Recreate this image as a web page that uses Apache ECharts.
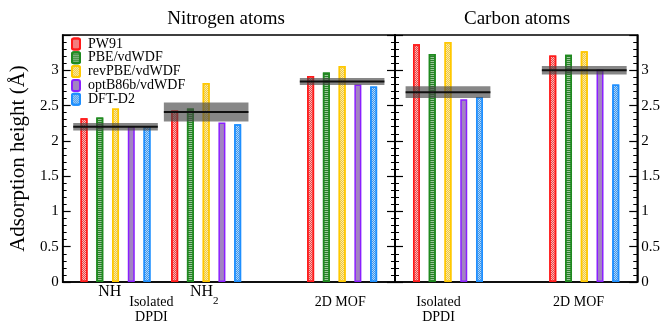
<!DOCTYPE html>
<html><head><meta charset="utf-8">
<script src="https://cdn.jsdelivr.net/npm/echarts@6/dist/echarts.min.js"></script>
<style>html,body{margin:0;padding:0;background:#fff}#c{width:663px;height:325px}</style>
</head><body><div id="c"></div>
<script>
// ---- data ----
const methods = ['PW91', 'PBE/vdWDF', 'revPBE/vdWDF', 'optB86b/vdWDF', 'DFT-D2'];
// Nitrogen panel categories (blank entries are spacers)
const nCats = ['', '', '', 'NH', '', '', '', '', '', 'NH2', '', '', '', '', '', '', '', '', '2D MOF', '', '', ''];
const cCats = ['', '', '', 'Isolated DPDI', '', '', '', '', '', '', '', '', '2D MOF', '', '', ''];
const nGroups = ['NH', 'NH2', '2D MOF'];
const cGroups = ['Isolated DPDI', '2D MOF'];
// heights (Å) per method, groups in order above
const nPW91 = [2.32, 2.43, 2.92];
const nPBE = [2.33, 2.46, 2.97];
const nRevPBE = [2.46, 2.82, 3.06];
const nOptB86b = [2.21, 2.26, 2.80];
const nD2 = [2.21, 2.235, 2.77];
const cPW91 = [3.37, 3.21];
const cPBE = [3.23, 3.22];
const cRevPBE = [3.40, 3.27];
const cOptB86b = [2.59, 3.01];
const cD2 = [2.62, 2.80];
// experimental reference (centre, half-width of uncertainty band)
const nRefCenter = [2.20, 2.41, 2.84];
const nRefHalf = [0.04, 0.12, 0.035];
const cRefCenter = [2.69, 3.00];
const cRefHalf = [0.07, 0.045];

// ---- styles ----
const FONT = 'Liberation Serif';
const fills = ['#f7b8b8', '#9cc79c', '#faeaa8', '#a283c2', '#b4d8f6'];
const decalColors = ['#ee4444', '#2a7f2a', '#f0c840', null, '#3b94ee'];
const borders = ['#ff1a1a', '#1f8a1f', '#ffc800', '#8a1fff', '#1e8fff'];
const nVals = [nPW91, nPBE, nRevPBE, nOptB86b, nD2];
const cVals = [cPW91, cPBE, cRevPBE, cOptB86b, cD2];

// label axes (fine slots) for group labels
const leftLabelSlots = 88, rightLabelSlots = 64;
const upperLeft = new Array(leftLabelSlots).fill('');
upperLeft[12] = '{n|NH}'; upperLeft[37] = '{n|NH}{s|2}';
const lowerLeft = new Array(leftLabelSlots).fill('');
lowerLeft[23] = 'Isolated\nDPDI'; lowerLeft[73] = '2D MOF';
const lowerRight = new Array(rightLabelSlots).fill('');
lowerRight[11] = 'Isolated\nDPDI'; lowerRight[48] = '2D MOF';

function seriesData(cats, groups, vals) {
  return cats.map(c => { const i = groups.indexOf(c); return i >= 0 && c !== '' ? vals[i] : '-'; });
}
function refData(cats, groups, center, half) {
  return groups.map((g, i) => [cats.indexOf(g), center[i], half[i]]);
}

const yBase = {
  type: 'value', min: 0, max: 3.5, interval: 0.5,
  splitLine: { show: false },
  axisLine: { show: true, lineStyle: { color: '#000', width: 1.5 } },
  axisTick: { show: true, inside: true, length: 8, lineStyle: { color: '#000', width: 1.2 } },
  minorTick: { show: true, splitNumber: 5, length: 4, lineStyle: { color: '#000', width: 1 } },
  axisLabel: { show: false }
};
const labelFmt = v => (v >= 3.5 ? '' : String(v));
const yLabel = { show: true, color: '#000', fontFamily: FONT, fontSize: 15, margin: 4, formatter: labelFmt, showMaxLabel: false };

const hiddenX = {
  type: 'category', position: 'bottom', axisLine: { show: false }, axisTick: { show: false },
  splitLine: { show: false }
};

function makeDecal(k) {
  if (!decalColors[k]) return undefined;
  if (k === 1) return { symbol: 'rect', symbolSize: 1, color: decalColors[k], dashArrayX: [1, 0], dashArrayY: [1, 1], rotation: 0 };
  return { symbol: 'rect', symbolSize: 1, color: decalColors[k], dashArrayX: [[1, 1], [0, 1, 1, 0]], dashArrayY: [1, 0], rotation: 0 };
}

const series = [];
methods.forEach((m, k) => {
  const st = { color: fills[k], borderColor: borders[k], borderWidth: 1.5, decal: makeDecal(k) };
  series.push({ name: m, type: 'bar', xAxisIndex: 0, yAxisIndex: 0, barWidth: 7, barGap: '125%',
    data: seriesData(nCats, nGroups, nVals[k]), itemStyle: st });
  series.push({ name: m, type: 'bar', xAxisIndex: 3, yAxisIndex: 2, barWidth: 7, barGap: '125%',
    data: seriesData(cCats, cGroups, cVals[k]), itemStyle: st });
});
function bandRender(params, api) {
  const x = api.value(0), c = api.value(1), h = api.value(2);
  const pc = api.coord([x, c]), pl = api.coord([x, c - h]), ph = api.coord([x, c + h]);
  const half = api.size([1, 0])[0] * 2.8;
  return { type: 'group', children: [
    { type: 'rect', shape: { x: pc[0] - half, y: ph[1] - 1, width: 2 * half, height: pl[1] - ph[1] + 2 },
      style: { fill: 'rgba(70,70,70,0.65)' } },
    { type: 'line', shape: { x1: pc[0] - half, y1: pc[1], x2: pc[0] + half, y2: pc[1] },
      style: { stroke: '#111', lineWidth: 2 } }
  ] };
}
series.push({ type: 'custom', xAxisIndex: 0, yAxisIndex: 0, z: 10, renderItem: bandRender,
  data: refData(nCats, nGroups, nRefCenter, nRefHalf) });
series.push({ type: 'custom', xAxisIndex: 3, yAxisIndex: 2, z: 10, renderItem: bandRender,
  data: refData(cCats, cGroups, cRefCenter, cRefHalf) });

const option = {
  animation: false,
  backgroundColor: '#fff',
  textStyle: { fontFamily: FONT },
  grid: [
    { left: 58, top: 35, width: 337, height: 249, show: true, borderColor: '#000', borderWidth: 1.5, backgroundColor: 'transparent' },
    { left: 395, top: 35, width: 245, height: 249, show: true, borderColor: '#000', borderWidth: 1.5, backgroundColor: 'transparent' }
  ],
  xAxis: [
    Object.assign({}, hiddenX, { gridIndex: 0, data: nCats, axisLabel: { show: false },
      axisLine: { show: true, lineStyle: { color: '#000', width: 1.5 } } }),
    Object.assign({}, hiddenX, { gridIndex: 0, data: upperLeft, axisLabel: { show: true, interval: 0, margin: 2,
      color: '#000', fontFamily: FONT,
      rich: { n: { fontSize: 16, lineHeight: 16, fontFamily: FONT, color: '#000', verticalAlign: 'top' },
              s: { fontSize: 11, lineHeight: 11, fontFamily: FONT, color: '#000', verticalAlign: 'top', padding: [12, 0, 0, 0] } } } }),
    Object.assign({}, hiddenX, { gridIndex: 0, data: lowerLeft, axisLabel: { show: true, interval: 0, margin: 13,
      color: '#000', fontFamily: FONT, fontSize: 14, lineHeight: 15 } }),
    Object.assign({}, hiddenX, { gridIndex: 1, data: cCats, axisLabel: { show: false },
      axisLine: { show: true, lineStyle: { color: '#000', width: 1.5 } } }),
    Object.assign({}, hiddenX, { gridIndex: 1, data: lowerRight, axisLabel: { show: true, interval: 0, margin: 13,
      color: '#000', fontFamily: FONT, fontSize: 14, lineHeight: 15 } })
  ],
  yAxis: [
    Object.assign({}, yBase, { gridIndex: 0, position: 'left', axisLabel: yLabel,
      name: 'Adsorption height (Å)', nameLocation: 'middle', nameGap: 20,
      nameTextStyle: { fontFamily: FONT, fontSize: 21, color: '#000' } }),
    Object.assign({}, yBase, { gridIndex: 0, position: 'right' }),
    Object.assign({}, yBase, { gridIndex: 1, position: 'left' }),
    Object.assign({}, yBase, { gridIndex: 1, position: 'right', axisLabel: Object.assign({}, yLabel, { margin: 4 }) })
  ],
  legend: {
    data: methods, orient: 'vertical', left: 66, top: 32,
    itemWidth: 8, itemHeight: 11, itemGap: -0.2,
    textStyle: { fontFamily: FONT, fontSize: 14, lineHeight: 12, color: '#000', padding: [0, 0, 0, 3] }
  },
  graphic: [
    { type: 'text', x: 226, y: 19, style: { text: 'Nitrogen atoms', font: '19px "Liberation Serif"', fill: '#000', textAlign: 'center', textVerticalAlign: 'middle' } },
    { type: 'text', x: 517, y: 19, style: { text: 'Carbon atoms', font: '19px "Liberation Serif"', fill: '#000', textAlign: 'center', textVerticalAlign: 'middle' } }
  ],
  series: series
};
const chart = echarts.init(document.getElementById('c'), null, { renderer: 'canvas' });
chart.setOption(option);
</script></body></html>
